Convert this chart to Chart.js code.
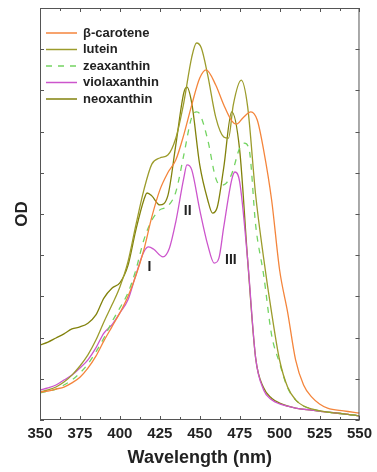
<!DOCTYPE html>
<html>
<head>
<meta charset="utf-8">
<script src="https://cdn.jsdelivr.net/npm/chart.js@4.4.0/dist/chart.umd.min.js"></script>
<style>
  html, body { margin: 0; padding: 0; background: #ffffff; }
  #wrap { width: 377px; height: 472px; }
</style>
</head>
<body>
<div id="wrap"><canvas id="chart"></canvas></div>
<script>
// Absorption spectra (wavelength in nm, OD in arbitrary units)
const caroteneNm = [350, 355, 360, 365, 370, 375, 380, 385, 390, 395, 400, 405, 410, 415, 420, 425, 430, 435, 440, 445, 450, 454, 460, 465, 470, 473, 477, 482, 486, 490, 495, 500, 505, 510, 515, 520, 525, 530, 540, 550];
const caroteneOD = [0.068, 0.070, 0.075, 0.080, 0.090, 0.104, 0.126, 0.155, 0.192, 0.226, 0.260, 0.299, 0.350, 0.413, 0.493, 0.558, 0.600, 0.631, 0.692, 0.765, 0.830, 0.850, 0.813, 0.765, 0.726, 0.718, 0.733, 0.748, 0.728, 0.655, 0.534, 0.364, 0.262, 0.146, 0.085, 0.056, 0.039, 0.029, 0.022, 0.017];

const luteinNm = [350, 355, 360, 365, 370, 375, 380, 385, 390, 395, 400, 405, 410, 415, 420, 425, 430, 435, 440, 445, 448, 451, 455, 460, 465, 468, 471, 476, 480, 485, 490, 495, 500, 505, 510, 515, 520, 530, 540, 550];
const luteinOD = [0.068, 0.073, 0.080, 0.092, 0.109, 0.131, 0.158, 0.194, 0.238, 0.279, 0.323, 0.383, 0.473, 0.558, 0.621, 0.636, 0.643, 0.684, 0.770, 0.881, 0.915, 0.903, 0.837, 0.735, 0.687, 0.684, 0.765, 0.825, 0.760, 0.546, 0.393, 0.260, 0.145, 0.080, 0.049, 0.034, 0.027, 0.019, 0.015, 0.010];

const zeaxanthinNm = [350, 355, 360, 365, 370, 375, 380, 385, 390, 395, 400, 405, 410, 415, 420, 425, 430, 435, 440, 445, 448, 450, 455, 460, 463, 466, 470, 475, 478, 481, 485, 490, 495, 500, 505, 510, 515, 520, 530, 540, 550];
const zeaxanthinOD = [0.066, 0.070, 0.075, 0.085, 0.097, 0.114, 0.136, 0.165, 0.199, 0.238, 0.272, 0.308, 0.364, 0.437, 0.485, 0.510, 0.519, 0.553, 0.643, 0.735, 0.748, 0.743, 0.680, 0.587, 0.570, 0.573, 0.597, 0.660, 0.672, 0.655, 0.473, 0.352, 0.206, 0.138, 0.078, 0.049, 0.034, 0.027, 0.019, 0.015, 0.010];

const violaxanthinNm = [350, 355, 360, 365, 370, 375, 380, 385, 390, 395, 400, 405, 410, 415, 418, 421, 427, 431, 435, 440, 442, 445, 450, 455, 459, 462, 465, 470, 472, 475, 480, 485, 490, 495, 500, 510, 520, 530, 540, 550];
const violaxanthinOD = [0.073, 0.078, 0.085, 0.097, 0.109, 0.126, 0.146, 0.175, 0.211, 0.231, 0.260, 0.291, 0.352, 0.408, 0.420, 0.415, 0.396, 0.417, 0.481, 0.587, 0.619, 0.607, 0.510, 0.425, 0.381, 0.393, 0.468, 0.583, 0.602, 0.578, 0.388, 0.150, 0.073, 0.049, 0.039, 0.029, 0.024, 0.019, 0.015, 0.010];

const neoxanthinNm = [350, 355, 360, 365, 370, 375, 380, 385, 390, 395, 400, 405, 410, 415, 417, 420, 425, 430, 435, 440, 442, 445, 450, 455, 458, 461, 465, 470, 475, 480, 485, 490, 495, 500, 510, 520, 530, 540, 550];
const neoxanthinOD = [0.182, 0.189, 0.199, 0.209, 0.221, 0.226, 0.235, 0.255, 0.296, 0.320, 0.333, 0.374, 0.461, 0.534, 0.551, 0.544, 0.522, 0.544, 0.667, 0.794, 0.808, 0.769, 0.619, 0.534, 0.502, 0.517, 0.612, 0.748, 0.655, 0.388, 0.150, 0.078, 0.053, 0.041, 0.029, 0.024, 0.019, 0.015, 0.010];

const seriesNames = ['\u03b2-carotene', 'lutein', 'zeaxanthin', 'violaxanthin', 'neoxanthin'];

// Vibronic band labels on the violaxanthin spectrum
const bandLabels = ['I', 'II', 'III'];
const bandNm = [418.5, 442.5, 469.5];
const bandOD = [0.370, 0.507, 0.388];

const xTickMin = 350;
const xTickMax = 550;
const xTickStep = 25;

const FONT = "'Liberation Sans', Arial, Helvetica, sans-serif";

function toPoints(xs, ys) {
    return xs.map((x, i) => ({ x: x, y: ys[i] }));
}

function lineSet(label, xs, ys, color, dash) {
    return {
        label: label,
        data: toPoints(xs, ys),
        borderColor: color,
        backgroundColor: color,
        borderWidth: 1.3,
        borderDash: dash || [],
        pointRadius: 0,
        fill: false,
        cubicInterpolationMode: 'monotone'
    };
}

// Frame with inward ticks on all four sides, plus legend and band labels
const framePlugin = {
    id: 'frame',
    afterDraw(chart) {
        const ctx = chart.ctx;
        const a = chart.chartArea;
        const xs = chart.scales.x;
        const ys = chart.scales.y;
        ctx.save();
        ctx.strokeStyle = '#555555';
        ctx.lineWidth = 1;
        ctx.strokeRect(a.left + 0.5, a.top + 0.5, a.right - a.left - 1, a.bottom - a.top - 1);

        ctx.beginPath();
        for (let v = xTickMin; v <= xTickMax; v += xTickStep / 2) {
            const px = Math.round(xs.getPixelForValue(v)) + 0.5;
            const len = (v - xTickMin) % xTickStep === 0 ? 4 : 3;
            ctx.moveTo(px, a.bottom);
            ctx.lineTo(px, a.bottom - len);
            ctx.moveTo(px, a.top);
            ctx.lineTo(px, a.top + len);
        }
        for (let v = 0; v <= 10; v++) {
            const py = Math.round(ys.getPixelForValue(v / 10)) + 0.5;
            ctx.moveTo(a.left, py);
            ctx.lineTo(a.left + 4, py);
            ctx.moveTo(a.right, py);
            ctx.lineTo(a.right - 4, py);
        }
        ctx.stroke();

        // legend
        ctx.font = 'bold 13px ' + FONT;
        ctx.textBaseline = 'middle';
        ctx.textAlign = 'left';
        chart.data.datasets.forEach((ds, i) => {
            const y = a.top + 25 + i * 16.5;
            ctx.beginPath();
            ctx.strokeStyle = ds.borderColor;
            ctx.lineWidth = 1.5;
            ctx.setLineDash(ds.borderDash || []);
            ctx.moveTo(a.left + 6, y);
            ctx.lineTo(a.left + 37, y);
            ctx.stroke();
            ctx.setLineDash([]);
            ctx.fillStyle = '#222222';
            ctx.fillText(ds.label, a.left + 43, y);
        });

        // band labels
        ctx.font = 'bold 14px ' + FONT;
        ctx.textAlign = 'center';
        bandLabels.forEach((t, i) => {
            ctx.fillText(t, xs.getPixelForValue(bandNm[i]), ys.getPixelForValue(bandOD[i]));
        });
        ctx.restore();
    }
};

const ctx = document.getElementById('chart').getContext('2d');
new Chart(ctx, {
    type: 'line',
    data: {
        datasets: [
            lineSet(seriesNames[0], caroteneNm, caroteneOD, '#f4853c'),
            lineSet(seriesNames[1], luteinNm, luteinOD, '#9c9c2c'),
            lineSet(seriesNames[2], zeaxanthinNm, zeaxanthinOD, '#74d462', [6, 6]),
            lineSet(seriesNames[3], violaxanthinNm, violaxanthinOD, '#cc55cc'),
            lineSet(seriesNames[4], neoxanthinNm, neoxanthinOD, '#82820c')
        ]
    },
    options: {
        responsive: true,
        maintainAspectRatio: false,
        animation: false,
        layout: { padding: { top: 8, right: 17, left: 0, bottom: 0 } },
        plugins: {
            legend: { display: false },
            tooltip: { enabled: false }
        },
        scales: {
            x: {
                type: 'linear',
                min: xTickMin,
                max: xTickMax,
                grid: { display: false, drawTicks: false },
                border: { display: false },
                ticks: {
                    stepSize: xTickStep,
                    padding: 5,
                    color: '#222222',
                    maxRotation: 0,
                    font: { family: FONT, size: 15, weight: 'bold' }
                },
                title: {
                    display: true,
                    text: 'Wavelength (nm)',
                    color: '#222222',
                    padding: { top: 0, bottom: 3 },
                    font: { family: FONT, size: 18, weight: 'bold' }
                },
                afterFit(scale) { scale.height = 52; }
            },
            y: {
                min: 0,
                max: 1,
                grid: { display: false, drawTicks: false },
                border: { display: false },
                ticks: { display: false, stepSize: 0.1 },
                title: {
                    display: true,
                    text: 'OD',
                    color: '#222222',
                    padding: { top: 12, bottom: 0 },
                    font: { family: FONT, size: 17, weight: 'bold' }
                },
                afterFit(scale) { scale.width = 40; }
            }
        }
    },
    plugins: [framePlugin]
});
</script>
</body>
</html>
